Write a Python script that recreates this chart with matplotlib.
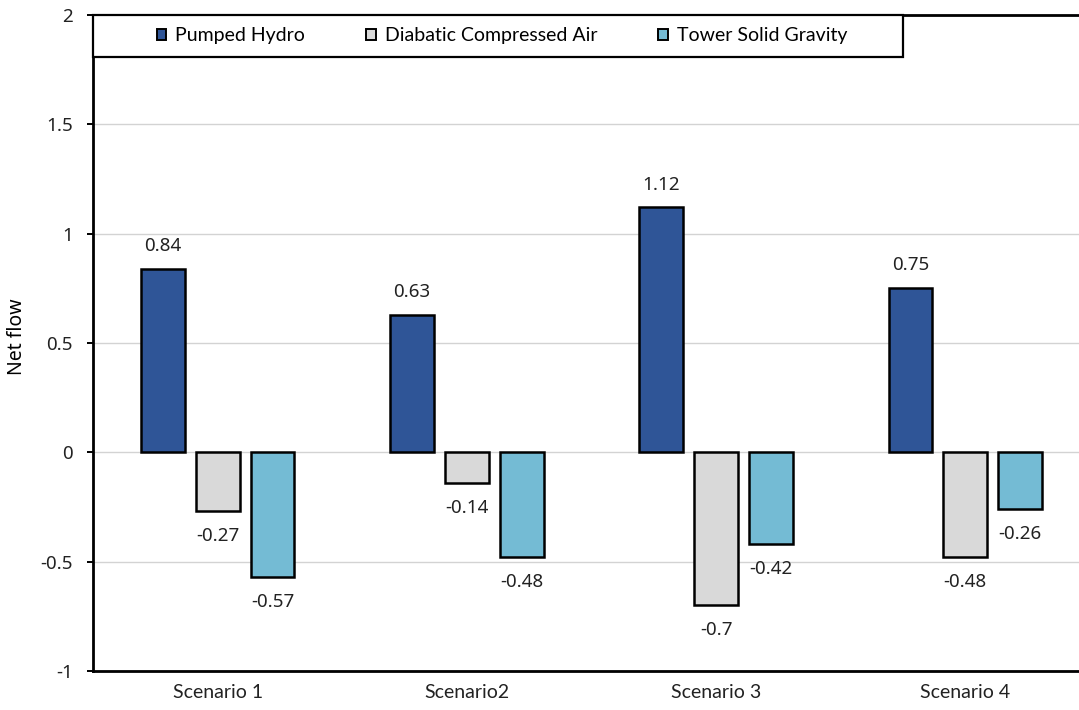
import matplotlib.pyplot as plt
from matplotlib.patches import Rectangle
import numpy as np

scenarios = ["Scenario 1", "Scenario2", "Scenario 3", "Scenario 4"]
series_names = ["Pumped Hydro", "Diabatic Compressed Air", "Tower Solid Gravity"]
pumped_hydro = [0.84, 0.63, 1.12, 0.75]
diabatic_air = [-0.27, -0.14, -0.70, -0.48]
tower_gravity = [-0.57, -0.48, -0.42, -0.26]
value_labels = [
    ["0.84", "0.63", "1.12", "0.75"],
    ["-0.27", "-0.14", "-0.7", "-0.48"],
    ["-0.57", "-0.48", "-0.42", "-0.26"],
]
y_ticks = [-1, -0.5, 0, 0.5, 1, 1.5, 2]
y_tick_labels = ["-1", "-0.5", "0", "0.5", "1", "1.5", "2"]

colors = ["#2F5597", "#D9D9D9", "#74BBD4"]
text_color = "#222222"
num_font = "Noto Sans"

fig = plt.figure(figsize=(10.79, 7.10), dpi=100)
ax = fig.add_axes([93 / 1079, 1 - 671 / 710, (1090 - 93) / 1079, (671 - 15) / 710])

x = np.arange(len(scenarios))
width = 0.176
offsets = [-0.22, 0.0, 0.22]
all_series = [pumped_hydro, diabatic_air, tower_gravity]

for i, (vals, name, col) in enumerate(zip(all_series, series_names, colors)):
    bars = ax.bar(x + offsets[i], vals, width, color=col, edgecolor="black",
                  linewidth=1.8, label=name, zorder=3)
    for b, v, lab in zip(bars, vals, value_labels[i]):
        cx = b.get_x() + b.get_width() / 2
        dy = 16.5 if v >= 0 else -18.0
        ax.annotate(lab, (cx, v), xytext=(0, dy), textcoords="offset points",
                    ha="center", va="center", fontsize=13.5,
                    family=num_font, color=text_color)

ax.set_ylim(-1, 2)
ax.set_xlim(-0.5, 3.5)
ax.set_yticks(y_ticks)
ax.set_yticklabels(y_tick_labels, family=num_font, fontsize=13.5, color=text_color)
ax.set_xticks(x)
ax.set_xticklabels(scenarios, family="Lato", fontsize=14, color=text_color)
ax.tick_params(axis="x", length=0, pad=9)
ax.tick_params(axis="y", length=4.5, width=1.4, direction="out", pad=10)

ax.grid(axis="y", color="#D3D3D3", linewidth=1.0, zorder=0)
ax.set_axisbelow(True)

for side in ["left", "bottom", "top"]:
    ax.spines[side].set_linewidth(2.0)
    ax.spines[side].set_color("black")
ax.spines["right"].set_visible(False)

ax.set_ylabel("Net flow", family=num_font, fontsize=14, color="black")
ax.yaxis.set_label_coords(-0.066, 0.51)

# legend box spanning the top-left part of the plot area
box_w = (903 - 93) / (1090 - 93)
box_h = (57 - 15) / (671 - 15)
ax.add_patch(Rectangle((0, 1 - box_h), box_w, box_h, transform=ax.transAxes,
                       facecolor="white", edgecolor="black", linewidth=1.6,
                       zorder=4, clip_on=False))
leg = ax.legend(loc="center", bbox_to_anchor=(box_w / 2 + 0.004, 1 - box_h / 2),
                ncol=3, frameon=False, borderaxespad=0,
                handlelength=0.5, handleheight=0.5, handletextpad=0.45,
                columnspacing=3.15, prop={"family": "Lato", "size": 14})
for h in leg.legend_handles:
    h.set_linewidth(1.4)
leg.set_zorder(5)

fig.savefig("out.png", dpi=100)
